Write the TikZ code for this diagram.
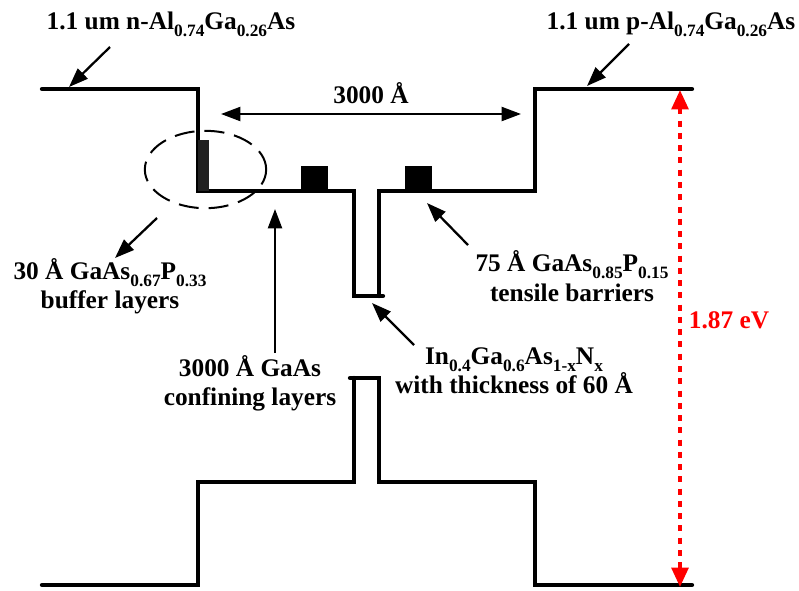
\documentclass[tikz,border=0pt]{standalone}
\usepackage{fontspec}
\setmainfont{Liberation Serif}
\usepackage{xcolor}
\usetikzlibrary{arrows.meta,positioning,calc,shapes}
\newcommand{\lowtxt}[1]{\raisebox{-0.6ex}{\fontsize{13}{13}\selectfont #1}}
\begin{document}
\begin{tikzpicture}[
  x=0.75pt, y=-0.75pt,
  band/.style={line width=3.2pt, line join=miter, line cap=round},
  lbl/.style={font=\fontsize{19}{22}\selectfont\bfseries, align=center, inner sep=0pt},
  arr/.style={-{Triangle[length=14.5pt,width=10.5pt]}, line width=1.7pt},
  dbl/.style={{Triangle[length=14.5pt,width=10.5pt]}-{Triangle[length=14.5pt,width=10.5pt]}, line width=1.6pt},
  barrier/.style={fill=black, draw=none},
]
\useasboundingbox (0,0) rectangle (799,590);
% bands
\draw[band] (42,89) -- (198,89) -- (198,191) -- (354,191) -- (354,296) -- (383,296);
\draw[band] (379,296) -- (379,191) -- (535,191) -- (535,89) -- (692,89);
\draw[band] (42,585) -- (198,585) -- (198,482) -- (354,482) -- (354,378);
\draw[band] (350,378) -- (379,378) -- (379,482) -- (535,482) -- (535,585) -- (692,585);
\fill[black!87] (198,140) rectangle (209,191);
\fill[barrier] (301,166) rectangle (328,191);
\fill[barrier] (405,166) rectangle (432,191);
\node[draw, ellipse, dash pattern=on 15pt off 7.5pt, line width=1.5pt, minimum width=91pt, minimum height=58pt, inner sep=0pt] (circ) at (205.5,169.5) {};
% labels
\node[lbl] (nal) at (171,24) {1.1 um n-Al\lowtxt{0.74}Ga\lowtxt{0.26}As};
\node[lbl] (pal) at (671,24) {1.1 um p-Al\lowtxt{0.74}Ga\lowtxt{0.26}As};
\node[lbl] (width) at (371,93) {3000 Å};
\node[lbl] (buf) at (110,286) {30 Å GaAs\lowtxt{0.67}P\lowtxt{0.33}\\buffer layers};
\node[lbl] (conf) at (250,383) {3000 Å GaAs\\confining layers};
\node[lbl] (tens) at (572,276) {75 Å GaAs\lowtxt{0.85}P\lowtxt{0.15}\\tensile barriers};
\node[lbl] (well) at (514,371) {In\lowtxt{0.4}Ga\lowtxt{0.6}As\lowtxt{1-x}N\lowtxt{x}\\with thickness of 60 Å};
\node[lbl, text=red] (gap) at (729,320) {1.87 eV};
% arrow ends
\coordinate (a1) at (110,47);
\coordinate (a2) at (69,87);
\coordinate (b1) at (629,44);
\coordinate (b2) at (587,86);
\coordinate (c1) at (157,218);
\coordinate (c2) at (115,258);
\coordinate (d1) at (275,353);
\coordinate (d2) at (275,209);
\coordinate (e1) at (468,245);
\coordinate (e2) at (427,203);
\coordinate (f1) at (414,345);
\coordinate (f2) at (372,303);
\coordinate (w1) at (221,114);
\coordinate (w2) at (521,114);
\coordinate (g1) at (680,90);
\coordinate (g2) at (680,587);
\draw[arr] (a1) -- (a2);
\draw[arr] (b1) -- (b2);
\draw[arr] (c1) -- (c2);
\draw[arr] (d1) -- (d2);
\draw[arr] (e1) -- (e2);
\draw[arr] (f1) -- (f2);
\draw[dbl] (w1) -- (w2);
\draw[red, line width=2.8pt, dash pattern=on 4.5pt off 4.7pt, {Triangle[length=14.5pt,width=12.5pt]}-{Triangle[length=14.5pt,width=12.5pt]}] (g1) -- (g2);
\end{tikzpicture}
\end{document}
